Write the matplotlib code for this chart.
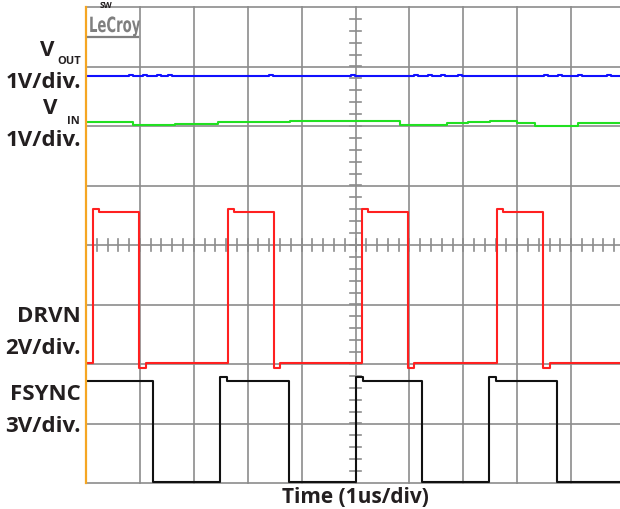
import numpy as np
import matplotlib.pyplot as plt
from matplotlib.textpath import TextPath
from matplotlib.patches import PathPatch
from matplotlib.font_manager import FontProperties
from matplotlib.transforms import Affine2D, IdentityTransform

# scope screen: 10 x-divisions (1us/div), 8 y-divisions, y in divisions from centre
vout_level = 2.835
vout_blips = [0.83, 1.09, 1.35, 1.56, 3.43, 4.95, 6.12, 6.38, 6.62, 6.94, 8.53, 8.79, 9.17, 9.70]

vin_t = [0.0, 0.72, 0.87, 1.65, 2.12, 2.45, 3.04, 3.78, 4.53, 5.36, 5.83, 6.70, 7.09, 7.50, 8.00, 8.33, 9.13, 10.0]
vin_v = [2.073, 2.059, 2.025, 2.034, 2.042, 2.059, 2.067, 2.079, 2.089, 2.076, 2.025, 2.045, 2.067, 2.079, 2.050, 2.005, 2.045, 2.045]

drvn_rise = [0.13, 2.63, 5.12, 7.62]
drvn_fall = [0.99, 3.48, 5.97, 8.48]
drvn_high, drvn_low = 0.55, -1.98

fsync_fall = [1.25, 3.77, 6.24, 8.74]
fsync_rise = [2.49, 5.01, 7.48]
fsync_high, fsync_low = -2.28, -3.98

W, H = 620, 510


def px(x, y):
    return x / W, 1 - y / H


def square(rises, falls, hi, lo, start_high, over, under):
    # step waveform with a small overshoot after each edge
    t, v = [0.0], [hi if start_high else lo]
    edges = sorted([(r, 1) for r in rises] + [(f, 0) for f in falls])
    for e, up in edges:
        if up:
            t += [e, e + 0.03, e + 0.12]
            v += [hi + over, hi + over, hi]
        else:
            t += [e, e + 0.03, e + 0.12]
            v += [lo - under, lo - under, lo]
    t.append(10.0)
    v.append(v[-1])
    return t, v


fig = plt.figure(figsize=(6.2, 5.1), dpi=100)
ax = fig.add_axes([86 / W, 26 / H, 539 / W, 476 / H])
ax.set_xlim(0, 10)
ax.set_ylim(-4, 4)
ax.axis("off")

grid_c = "#8c8c8c"
for x in range(11):
    ax.axvline(x, color=grid_c, lw=1.2, clip_on=False, zorder=1)
for y in range(-4, 5):
    ax.axhline(y, color=grid_c, lw=1.2, clip_on=False, zorder=1)
for x in np.arange(0.2, 10, 0.2):
    ax.plot([x, x], [-0.1, 0.1], color=grid_c, lw=1.2, zorder=1)
for y in np.arange(-3.8, 4, 0.2):
    ax.plot([4.89, 5.11], [y, y], color=grid_c, lw=1.2, zorder=1)
ax.axvline(0, color="#f5a623", lw=1.6, clip_on=False, zorder=5)

# VOUT
bt, bv = [0.0], [vout_level]
for c in vout_blips:
    bt += [c - 0.04, c + 0.04]
    bv += [vout_level + 0.03, vout_level]
bt.append(10.0)
bv.append(vout_level)
ax.plot(bt, bv, drawstyle="steps-post", color="#1010ff", lw=1.5, zorder=3)

# VIN
ax.plot(vin_t, vin_v, drawstyle="steps-post", color="#22e022", lw=1.5, zorder=3)

# DRVN
t, v = square(drvn_rise, drvn_fall, drvn_high, drvn_low, False, 0.05, 0.08)
ax.plot(t, v, drawstyle="steps-post", color="#ff2020", lw=1.5, zorder=3)

# FSYNC
t, v = square(fsync_rise, fsync_fall, fsync_high, fsync_low, True, 0.06, 0.0)
ax.plot(t, v, drawstyle="steps-post", color="#111111", lw=1.5, zorder=3)

# LeCroy logo, condensed by scaling the glyph path
logo = TextPath((0, 0), "LeCroy", size=21, prop=FontProperties(family="DejaVu Sans", weight="bold"))
tr = Affine2D().scale(0.63, 1.0).translate(89, H - 33) + IdentityTransform()
fig.add_artist(PathPatch(logo, transform=tr, color="#7f7f7f", lw=0))
fig.add_artist(plt.Line2D([88 / W, 138 / W], [1 - 38 / H, 1 - 38 / H], color="#7f7f7f", lw=1.6))

lab = dict(family=["Open Sans", "DejaVu Sans"], weight="bold", color="#231f20")
fig.text(*px(106, 5), "SW", fontsize=6, ha="center", va="center", **lab)
fig.text(*px(47, 50), "V", fontsize=16, ha="center", va="center", **lab)
fig.text(*px(81, 62), "OUT", fontsize=8, ha="right", va="center", **lab)
fig.text(*px(81, 83), "1V/div.", fontsize=16, ha="right", va="center", **lab)
fig.text(*px(50, 108), "V", fontsize=16, ha="center", va="center", **lab)
fig.text(*px(80, 122), "IN", fontsize=8, ha="right", va="center", **lab)
fig.text(*px(81, 141), "1V/div.", fontsize=16, ha="right", va="center", **lab)
fig.text(*px(81, 316), "DRVN", fontsize=16, ha="right", va="center", **lab)
fig.text(*px(81, 349), "2V/div.", fontsize=16, ha="right", va="center", **lab)
fig.text(*px(81, 394), "FSYNC", fontsize=16, ha="right", va="center", **lab)
fig.text(*px(81, 426), "3V/div.", fontsize=16, ha="right", va="center", **lab)
fig.text(*px(355, 498), "Time (1us/div)", fontsize=15, ha="center", va="center", **lab)

fig.savefig("out.png", dpi=100)
